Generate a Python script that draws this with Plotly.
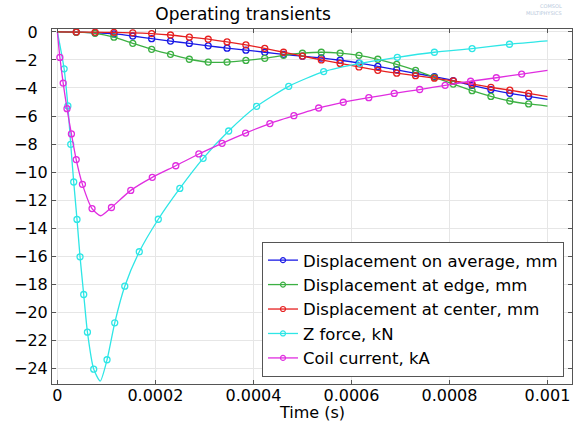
import plotly.graph_objects as go

# ---------------- data ----------------
# displacement marker/line times (s)
t_disp = [0.0, 3.85e-5, 7.69e-5, 1.154e-4, 1.538e-4, 1.923e-4, 2.308e-4, 2.692e-4,
          3.077e-4, 3.462e-4, 3.846e-4, 4.231e-4, 4.615e-4, 5.0e-4, 5.385e-4,
          5.769e-4, 6.154e-4, 6.538e-4, 6.923e-4, 7.308e-4, 7.692e-4, 8.077e-4,
          8.462e-4, 8.846e-4, 9.231e-4, 9.615e-4, 1.0e-3]
disp_avg = [0.0, -0.01, -0.06, -0.14, -0.29, -0.48, -0.65, -0.82, -0.99, -1.16, -1.30,
            -1.45, -1.60, -1.73, -1.86, -2.02, -2.22, -2.46, -2.70, -2.95, -3.20,
            -3.47, -3.82, -4.12, -4.38, -4.60, -4.82]
disp_edge = [0.0, -0.02, -0.10, -0.37, -0.81, -1.24, -1.60, -1.95, -2.15, -2.15, -2.03,
             -1.88, -1.67, -1.52, -1.45, -1.51, -1.67, -1.95, -2.31, -2.74, -3.24,
             -3.72, -4.19, -4.60, -4.93, -5.14, -5.29]
disp_center = [0.0, -0.01, -0.02, -0.03, -0.06, -0.12, -0.22, -0.37, -0.52, -0.71, -0.93,
               -1.17, -1.45, -1.72, -2.00, -2.25, -2.50, -2.74, -2.94, -3.12, -3.30,
               -3.50, -3.72, -3.95, -4.16, -4.38, -4.62]

# Z force (kN): line points; markers are all but the minimum and the end point
t_force = [0.0, 1.37e-5, 2.14e-5, 2.72e-5, 3.33e-5, 4.0e-5, 4.62e-5, 5.37e-5, 6.13e-5,
           7.41e-5, 8.74e-5, 1.013e-4, 1.17e-4, 1.375e-4, 1.671e-4, 2.059e-4, 2.498e-4,
           2.974e-4, 3.495e-4, 4.065e-4, 4.72e-4, 5.433e-4, 6.174e-4, 6.936e-4,
           7.692e-4, 8.462e-4, 9.224e-4, 1.0e-3]
z_force = [0.0, -2.63, -5.28, -8.02, -10.71, -13.38, -16.05, -18.74, -21.43,
           -24.07, -24.92, -23.40, -20.76, -18.15, -15.69, -13.37, -11.17,
           -9.02, -7.07, -5.31, -3.88, -2.83, -2.24, -1.81,
           -1.45, -1.19, -0.88, -0.64]
force_marker_idx = [1, 2, 3, 4, 5, 6, 7, 8, 9, 11, 12, 13, 14, 15, 16, 17, 18, 19,
                    20, 21, 22, 23, 24, 25, 26]

# Coil current (kA)
t_curr = [0.0, 5.1e-6, 1.18e-5, 1.96e-5, 2.86e-5, 3.84e-5, 5.11e-5, 7.07e-5, 8.84e-5,
          1.103e-4, 1.497e-4, 1.936e-4, 2.416e-4, 2.886e-4, 3.36e-4, 3.84e-4,
          4.336e-4, 4.826e-4, 5.331e-4, 5.833e-4, 6.354e-4, 6.873e-4, 7.392e-4,
          7.911e-4, 8.431e-4, 8.956e-4, 9.473e-4, 1.0e-3]
coil_current = [0.0, -1.82, -3.65, -5.48, -7.28, -9.11, -10.88, -12.61, -13.12,
                -12.53, -11.31, -10.38, -9.55, -8.71, -7.95, -7.22,
                -6.54, -5.98, -5.43, -5.02, -4.69, -4.39, -4.11,
                -3.81, -3.52, -3.27, -3.01, -2.74]
curr_marker_idx = [1, 2, 3, 4, 5, 6, 7, 9, 10, 11, 12, 13, 14, 15, 16, 17, 18, 19,
                   20, 21, 22, 23, 24, 25, 26]

disp_marker_idx = list(range(1, 26))

names = ["Displacement on average, mm", "Displacement at edge, mm",
         "Displacement at center, mm", "Z force, kN", "Coil current, kA"]
colors = ["#1a1ae6", "#3cb043", "#e62020", "#2ee6e6", "#e02de0"]

x_tickvals = [0, 0.0002, 0.0004, 0.0006, 0.0008, 0.001]
x_ticktext = ["0", "0.0002", "0.0004", "0.0006", "0.0008", "0.001"]
y_tickvals = [0, -2, -4, -6, -8, -10, -12, -14, -16, -18, -20, -22, -24]
y_ticktext = ["0\u2007", "\u22122\u2007", "\u22124\u2007", "\u22126\u2007", "\u22128\u2007",
              "\u221210", "\u221212", "\u221214", "\u221216", "\u221218", "\u221220",
              "\u221222", "\u221224"]

series = [
    (t_disp, disp_avg, disp_marker_idx),
    (t_disp, disp_edge, disp_marker_idx),
    (t_disp, disp_center, disp_marker_idx),
    (t_force, z_force, force_marker_idx),
    (t_curr, coil_current, curr_marker_idx),
]

fig = go.Figure()
for (tx, yy, idx), name, col in zip(series, names, colors):
    fig.add_trace(go.Scatter(x=tx, y=yy, mode="lines", showlegend=False,
                             line=dict(color=col, width=1.3, shape="spline", smoothing=0.6),
                             hoverinfo="skip"))
    fig.add_trace(go.Scatter(x=[tx[i] for i in idx], y=[yy[i] for i in idx],
                             mode="markers", showlegend=False,
                             marker=dict(symbol="circle-open", size=6, color=col,
                                         line=dict(width=1.3, color=col))))
for name, col in zip(names, colors):
    fig.add_trace(go.Scatter(x=[None], y=[None], mode="lines+markers", name=name,
                             line=dict(color=col, width=1.3),
                             marker=dict(symbol="circle-open", size=5, color=col,
                                         line=dict(width=1.2, color=col))))

axis_common = dict(showgrid=True, gridcolor="#e6e6e6", gridwidth=1,
                   showline=True, linecolor="#555555", linewidth=1,
                   mirror="ticks", ticks="inside", ticklen=4, tickcolor="#555555",
                   zeroline=False, automargin=False,
                   tickfont=dict(family="DejaVu Sans", size=16, color="#000000"))

fig.update_layout(
    width=583, height=421,
    margin=dict(l=52, r=11, t=29, b=37),
    paper_bgcolor="white", plot_bgcolor="white",
    font=dict(family="DejaVu Sans", color="#000000"),
    title=dict(text="Operating transients", xref="container", x=0.417, xanchor="center",
               y=0.967, yanchor="middle", automargin=False,
               font=dict(family="DejaVu Sans", size=17, color="#000000")),
    xaxis=dict(range=[-1.1e-5, 1.05e-3], tickvals=x_tickvals, ticktext=x_ticktext,
               ticklabelstandoff=-3, **axis_common),
    yaxis=dict(range=[-25.13, 0.21], tickvals=y_tickvals, ticktext=y_ticktext,
               **axis_common),
    legend=dict(x=0.9846, xanchor="right", y=0.02, yanchor="bottom",
                bgcolor="white", bordercolor="#555555", borderwidth=1,
                font=dict(family="DejaVu Sans", size=16.5, color="#000000"),
                tracegroupgap=0, itemwidth=30),
    annotations=[
        dict(text="Time (s)", xref="paper", yref="paper", x=0.5, y=-0.0789,
             xanchor="center", yanchor="middle", showarrow=False,
             font=dict(family="DejaVu Sans", size=16, color="#000000")),
        dict(text="COMSOL<br>MULTIPHYSICS", xref="paper", yref="paper",
             x=0.985, y=1.055, xanchor="right", yanchor="middle",
             showarrow=False, align="right",
             font=dict(family="DejaVu Sans", size=5, color="#b9c9dc")),
    ],
)

# remove the browser's default 8px body margin so the figure fills the window exactly
fig.write_html("out.html", config={"displayModeBar": False},
               post_script="document.body.style.margin='0';document.body.style.overflow='hidden';")
